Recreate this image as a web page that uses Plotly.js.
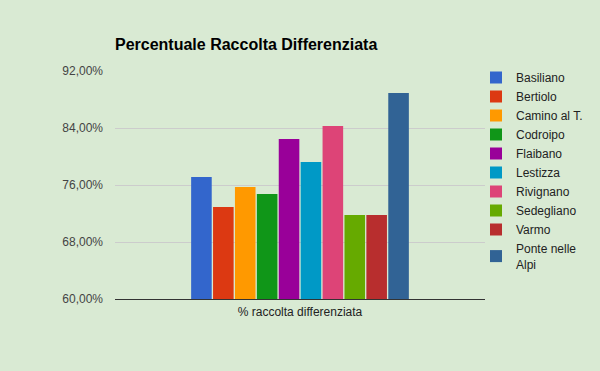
<!DOCTYPE html>
<html><head><meta charset="utf-8">
<script src="https://cdn.plot.ly/plotly-3.0.1.min.js"></script>
<style>html,body{margin:0;padding:0;background:#d9ead3;}#chart{width:600px;height:371px;}</style>
</head><body><div id="chart"></div>
<script>
const category = ['% raccolta differenziata'];
const comuni = ['Basiliano','Bertiolo','Camino al T.','Codroipo','Flaibano','Lestizza','Rivignano','Sedegliano','Varmo','Ponte nelle<br>Alpi'];
const valori = [77.12, 72.91, 75.72, 74.74, 82.46, 79.23, 84.28, 71.79, 71.79, 88.91];
const colori = ['#3366cc','#dc3912','#ff9900','#109618','#990099','#0099c6','#dd4477','#66aa00','#b82e2e','#316395'];
const yTicks = [60, 68, 76, 84, 92];
const yTickText = ['60,00%', '68,00%', '76,00%', '84,00%', '92,00%'];

const traces = comuni.map((c, i) => ({
  type: 'bar', name: c, x: category, y: [valori[i]],
  marker: {color: colori[i]}, hoverinfo: 'skip'
}));

const layout = {
  width: 600, height: 371,
  paper_bgcolor: '#d9ead3', plot_bgcolor: '#d9ead3',
  separators: ',.',
  margin: {l: 115, r: 115, t: 71, b: 72, pad: 0, autoexpand: false},
  font: {family: 'Liberation Sans, Arial, sans-serif', size: 12, color: '#222'},
  title: {text: '<b>Percentuale Raccolta Differenziata</b>', x: 115/600, xref: 'container', xanchor: 'left',
          y: 1 - 44/371, yref: 'container', yanchor: 'middle',
          font: {size: 16, color: '#000', family: 'Liberation Sans, Arial, sans-serif'}},
  barmode: 'group', bargap: 0.408, bargroupgap: 0.06,
  xaxis: {showgrid: false, showline: true, linecolor: '#333', linewidth: 1, ticks: '',
          tickfont: {size: 12, color: '#222'}, fixedrange: true, ticklabelstandoff: 2},
  yaxis: {range: [60, 92], tickvals: yTicks, ticktext: yTickText,
          showgrid: true, gridcolor: '#cccccc', zeroline: false, showline: false, ticks: '',
          tickfont: {size: 12, color: '#444'}, automargin: false, ticklabelstandoff: 11},
  legend: {xref: 'container', yref: 'container', x: 476/600, xanchor: 'left', y: 1 - 63/371, yanchor: 'top',
           font: {size: 12, color: '#222'}, maxheight: 1,
           bgcolor: 'rgba(0,0,0,0)', traceorder: 'normal', itemwidth: 30},
  showlegend: true
};
Plotly.newPlot('chart', traces, layout, {displayModeBar: false, staticPlot: true});
</script></body></html>
